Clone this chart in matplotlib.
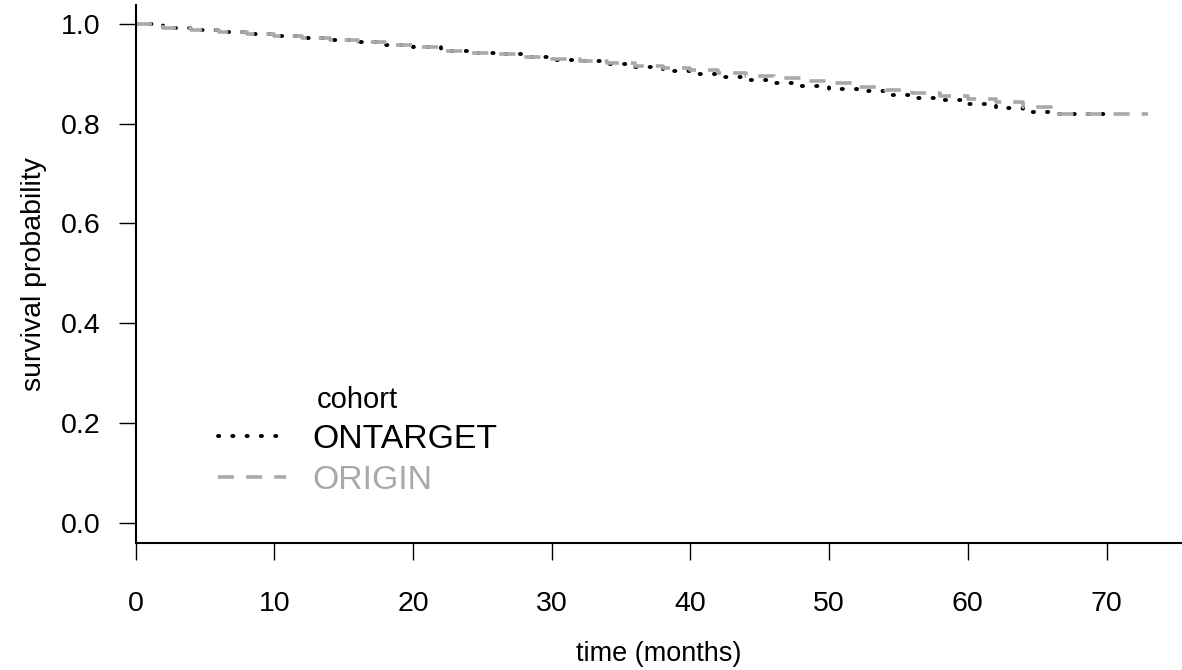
import matplotlib.pyplot as plt
from matplotlib.lines import Line2D

plt.rcParams['font.family'] = ['Liberation Sans', 'DejaVu Sans']

# Kaplan-Meier style survival estimates
ontarget_time = [0, 2, 4, 6, 8, 10, 12, 14, 16, 18, 20, 22, 24, 26, 28, 30, 32, 34,
                 36, 38, 40, 42, 44, 46, 48, 50, 52, 54, 56, 58, 60, 62, 64, 66, 70]
ontarget_surv = [1.000, 0.992, 0.988, 0.984, 0.980, 0.976, 0.972, 0.968, 0.963, 0.958,
                 0.953, 0.946, 0.941, 0.939, 0.933, 0.928, 0.925, 0.920, 0.913, 0.906,
                 0.900, 0.893, 0.887, 0.881, 0.875, 0.870, 0.865, 0.858, 0.852, 0.847,
                 0.840, 0.832, 0.824, 0.819, 0.819]

origin_time = [0, 2, 4, 6, 8, 10, 12, 14, 16, 18, 20, 22, 24, 26, 28, 30, 32, 34,
               36, 38, 40, 42, 44, 46, 48, 50, 52, 54, 56, 58, 60, 62, 64, 66, 73]
origin_surv = [1.000, 0.992, 0.988, 0.984, 0.980, 0.976, 0.972, 0.968, 0.963, 0.958,
               0.953, 0.946, 0.941, 0.939, 0.933, 0.929, 0.926, 0.921, 0.916, 0.912,
               0.907, 0.902, 0.896, 0.891, 0.886, 0.881, 0.874, 0.868, 0.862, 0.856,
               0.850, 0.843, 0.834, 0.819, 0.819]

cohorts = ['ONTARGET', 'ORIGIN']
colors = ['black', '#A9A9A9']
x_ticks = [0, 10, 20, 30, 40, 50, 60, 70]
y_ticks = [0.0, 0.2, 0.4, 0.6, 0.8, 1.0]

W, H = 1182, 670
fig = plt.figure(figsize=(W / 100, H / 100), dpi=100)
left, bottom_px, top_px = 135.7, 542.7, 5
ax = fig.add_axes([left / W, (H - bottom_px) / H, 1 - left / W, (bottom_px - top_px) / H])

dot = dict(lw=2.8, linestyle=(0, (0.3, 3.37)), dash_capstyle='round')
dash = dict(lw=2.6, linestyle=(0, (4.45, 3.33)), dash_capstyle='butt')
ax.step(ontarget_time, ontarget_surv, where='post', color=colors[0], **dot)
ax.step(origin_time, origin_surv, where='post', color=colors[1], **dash)

ax.set_xlim(0, 75.44)
ax.set_ylim(-0.04, 1.038)
ax.set_xticks(x_ticks)
ax.set_yticks(y_ticks)
ax.set_yticklabels(['%.1f' % v for v in y_ticks])

for s in ['top', 'right']:
    ax.spines[s].set_visible(False)
for s in ['left', 'bottom']:
    ax.spines[s].set_linewidth(1.5)

ax.tick_params(axis='both', direction='out', length=12, width=1.0, labelsize=20.5)
ax.tick_params(axis='y', pad=13.5)
ax.tick_params(axis='x', pad=23)

ax.set_xlabel('time (months)', fontsize=19.5, labelpad=17)
ax.set_ylabel('survival probability', fontsize=20.5, labelpad=10)

handles = [Line2D([], [], color=colors[0], **dot),
           Line2D([], [], color=colors[1], **dash)]
leg = ax.legend(handles, cohorts, title='cohort', loc='upper left',
                bbox_to_anchor=(0.0787, 0.292), frameon=False, fontsize=24.3,
                title_fontsize=21, handlelength=2.0, handletextpad=0.8,
                labelspacing=0.3, borderpad=0, borderaxespad=0,
                labelcolor=colors)

fig.savefig('out.png', dpi=100)
